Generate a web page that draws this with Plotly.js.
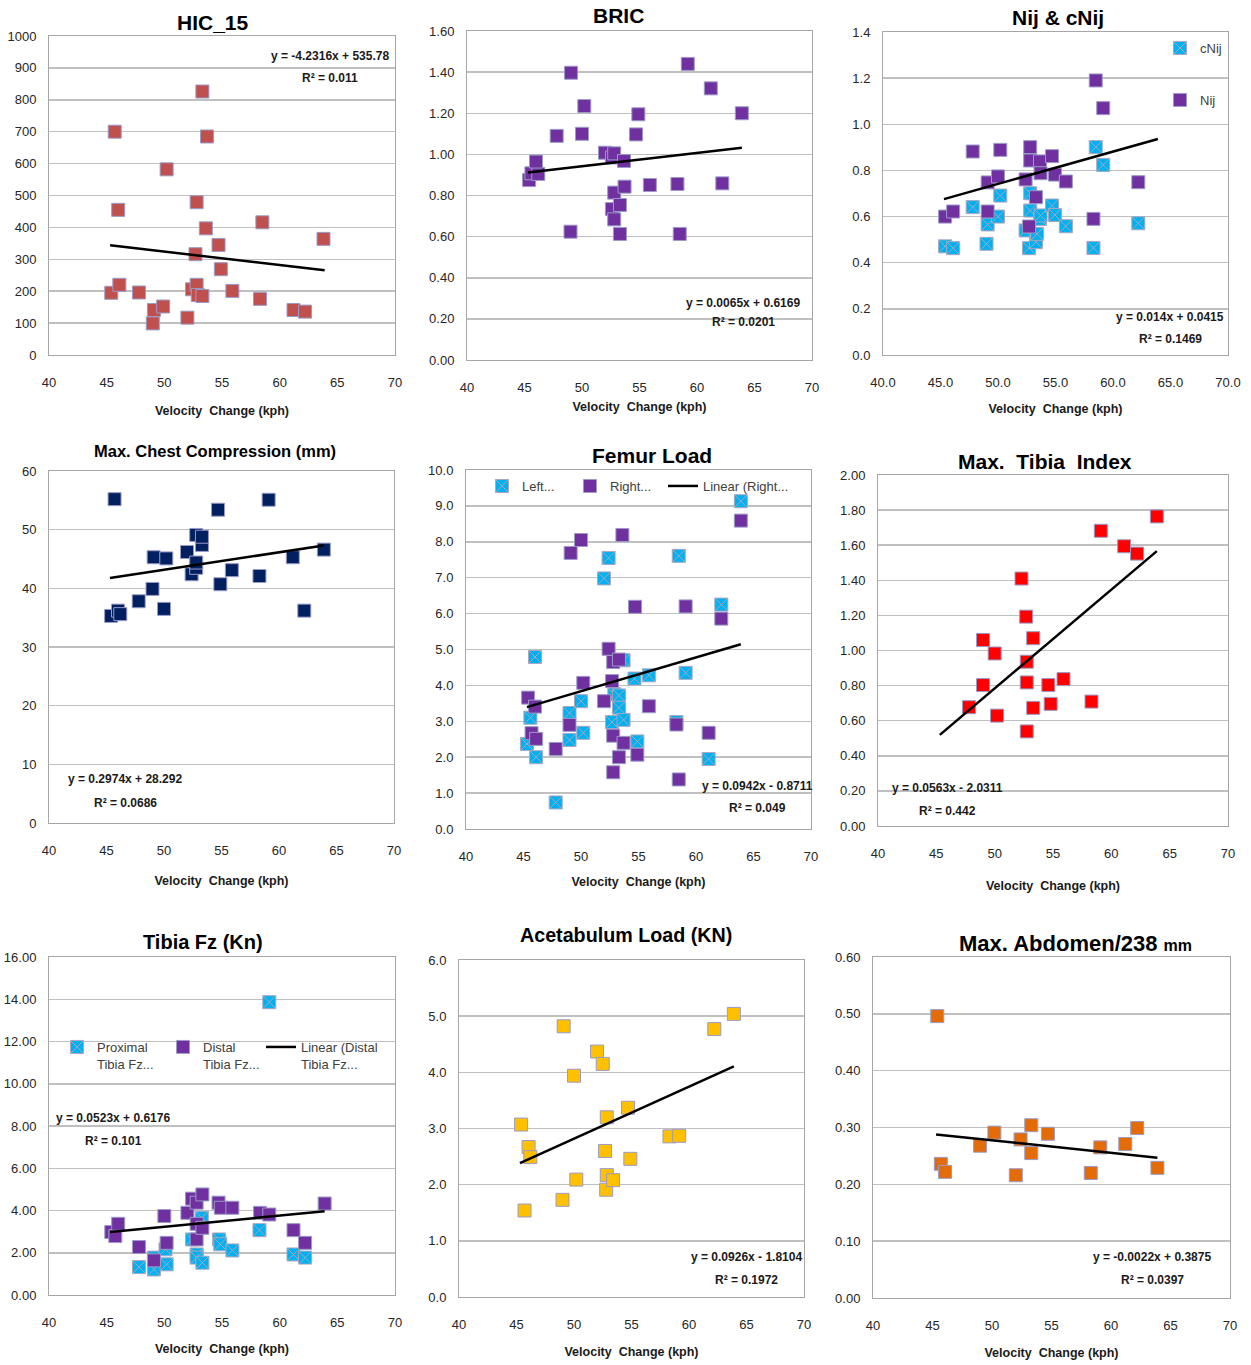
<!DOCTYPE html>
<html><head><meta charset="utf-8">
<script src="https://cdn.plot.ly/plotly-3.0.1.min.js"></script>
<style>html,body{margin:0;padding:0;background:#fff}#chart{width:1251px;height:1365px}</style>
</head><body><div id="chart"></div>
<script>
// ---------------- DATA ----------------
const hicX = [45.4, 45.7, 46.0, 46.1, 47.8, 49.1, 49.0, 49.9, 50.2, 52.0, 52.4, 52.8, 52.7, 52.8, 52.9, 53.3, 53.3, 53.6, 53.7, 54.7, 54.9, 55.9, 58.3, 58.5, 61.2, 62.2, 63.8];
const hicY = [195, 700, 455, 220, 196, 141, 99, 152, 582, 117, 206, 479, 316, 220, 188, 826, 185, 397, 685, 345, 269, 201, 176, 416, 141, 136, 364];

const bricX = [45.4, 45.6, 46.2, 46.0, 47.8, 49.05, 49.0, 50.0, 50.2, 52.0, 52.6, 52.8, 52.8, 52.6, 52.8, 53.3, 53.3, 53.65, 53.7, 54.7, 54.9, 55.9, 58.3, 58.5, 59.2, 61.2, 62.2, 63.9];
const bricY = [0.875, 0.908, 0.905, 0.965, 1.09, 1.397, 0.624, 1.10, 1.235, 1.008, 0.985, 1.005, 0.814, 0.734, 0.684, 0.754, 0.613, 0.968, 0.843, 1.097, 1.195, 0.851, 0.856, 0.613, 1.44, 1.321, 0.859, 1.20];

const cnijX = [45.4, 46.1, 47.8, 49.0, 49.1, 50.0, 50.2, 52.4, 52.8, 52.8, 52.7, 53.3, 53.4, 53.65, 53.7, 54.7, 54.95, 55.9, 58.3, 58.5, 59.15, 62.2];
const cnijY = [0.471, 0.463, 0.641, 0.482, 0.566, 0.600, 0.691, 0.540, 0.701, 0.626, 0.463, 0.489, 0.525, 0.590, 0.605, 0.648, 0.607, 0.558, 0.464, 0.901, 0.824, 0.571];
const nijX = [45.4, 46.1, 47.8, 49.1, 49.1, 50.0, 50.2, 52.4, 52.8, 52.8, 52.7, 53.3, 53.65, 53.7, 54.7, 54.95, 55.9, 58.3, 58.5, 59.15, 62.2];
const nijY = [0.600, 0.622, 0.882, 0.748, 0.622, 0.774, 0.889, 0.761, 0.901, 0.843, 0.557, 0.684, 0.839, 0.788, 0.862, 0.782, 0.752, 0.590, 1.190, 1.070, 0.749];

const chestX = [45.4, 45.7, 46.0, 46.2, 47.8, 49.0, 49.1, 50.0, 50.2, 52.0, 52.4, 52.8, 52.8, 52.8, 53.3, 53.3, 54.7, 54.9, 55.9, 58.3, 59.1, 61.2, 62.2, 63.9];
const chestY = [35.3, 55.2, 36.2, 35.6, 37.8, 39.9, 45.3, 36.5, 45.1, 46.2, 42.4, 49.1, 43.5, 44.4, 47.4, 48.8, 53.4, 40.7, 43.1, 42.1, 55.1, 45.3, 36.2, 46.6];

const femurLeftX = [45.3, 45.6, 46.0, 46.1, 47.8, 49.0, 49.0, 50.0, 50.2, 52.0, 52.4, 52.7, 52.9, 53.3, 53.3, 53.7, 53.7, 54.65, 54.9, 55.9, 58.5, 58.3, 59.1, 61.1, 62.2, 63.9];
const femurLeftY = [2.37, 3.10, 4.79, 2.00, 0.74, 3.23, 2.48, 3.56, 2.68, 6.98, 7.55, 2.98, 3.75, 3.72, 3.38, 4.70, 3.04, 4.19, 2.44, 4.28, 7.61, 2.98, 4.35, 1.95, 6.25, 9.13];
const femurRightX = [45.4, 45.7, 46.0, 46.1, 47.8, 49.0, 49.1, 50.0, 50.2, 52.0, 52.4, 52.7, 52.8, 52.8, 52.8, 53.3, 53.3, 53.6, 53.7, 54.7, 54.9, 55.9, 58.3, 58.5, 59.1, 61.1, 62.2, 63.9];
const femurRightY = [3.66, 2.67, 3.41, 2.51, 2.23, 2.90, 7.69, 8.05, 4.07, 3.56, 5.02, 4.12, 4.65, 2.60, 1.58, 4.72, 2.00, 8.19, 2.40, 6.19, 2.07, 3.42, 2.91, 1.38, 6.20, 2.68, 5.86, 8.59];

const tibiaIdxX = [47.8, 49.0, 49.0, 50.0, 50.2, 52.3, 52.7, 52.75, 52.75, 52.75, 53.3, 53.3, 54.6, 54.8, 55.9, 58.3, 59.1, 61.1, 62.2, 63.9];
const tibiaIdxY = [0.677, 0.803, 1.06, 0.983, 0.629, 1.41, 1.193, 0.936, 0.818, 0.539, 1.07, 0.673, 0.803, 0.696, 0.837, 0.709, 1.682, 1.594, 1.552, 1.764];

const tibiaProxX = [47.8, 49.1, 49.1, 50.1, 50.2, 52.4, 52.8, 52.8, 53.25, 53.3, 54.75, 54.85, 55.9, 58.25, 59.1, 61.2, 62.2];
const tibiaProxY = [1.32, 1.77, 1.21, 2.16, 1.45, 2.63, 1.92, 1.77, 3.66, 1.53, 2.63, 2.40, 2.11, 3.07, 13.86, 1.92, 1.77];
const tibiaDistX = [45.4, 45.75, 46.0, 47.8, 49.1, 50.0, 50.2, 52.0, 52.4, 52.8, 52.8, 52.8, 53.3, 53.3, 54.7, 54.9, 55.9, 58.3, 59.1, 61.2, 62.2, 63.9];
const tibiaDistY = [2.98, 2.79, 3.37, 2.27, 1.64, 3.74, 2.47, 3.89, 4.56, 4.37, 3.37, 2.63, 4.76, 3.18, 4.37, 4.13, 4.13, 3.89, 3.81, 3.07, 2.47, 4.33];

const acetX = [45.4, 45.7, 46.05, 46.2, 49.0, 49.1, 50.0, 50.2, 52.0, 52.5, 52.7, 52.85, 52.85, 52.8, 53.4, 54.7, 54.9, 58.3, 59.15, 62.2, 63.9];
const acetY = [3.07, 1.54, 2.67, 2.49, 1.73, 4.82, 3.94, 2.09, 4.37, 4.15, 2.60, 3.20, 2.17, 1.91, 2.08, 3.37, 2.46, 2.86, 2.87, 4.77, 5.04];

const abdX = [45.4, 45.7, 46.05, 49.0, 50.2, 52.0, 52.4, 53.3, 53.3, 54.7, 58.3, 59.1, 61.2, 62.2, 63.9];
const abdY = [0.496, 0.236, 0.222, 0.268, 0.291, 0.216, 0.279, 0.304, 0.255, 0.289, 0.220, 0.265, 0.271, 0.299, 0.229];

// Trend line equations as printed on each panel
const trendSlope = [-4.2316, 0.0065, 0.014, 0.2974, 0.0942, 0.0563, 0.0523, 0.0926, -0.0022];
const trendIntercept = [535.78, 0.6169, 0.0415, 28.292, -0.8711, -2.0311, 0.6176, -1.8104, 0.3875];
const trendR2 = [0.011, 0.0201, 0.1469, 0.0686, 0.049, 0.442, 0.101, 0.1972, 0.0397];

const panelTitles = ['HIC_15', 'BRIC', 'Nij & cNij', 'Max. Chest Compression (mm)', 'Femur Load',
  'Max.\u00a0 Tibia\u00a0 Index', 'Tibia Fz (Kn)', 'Acetabulum Load (KN)', "Max. Abdomen/238 <span style='font-size:16px'>mm</span>"];
const xTitle = 'Velocity\u00a0 Change (kph)';
const yMax = [1000, 1.6, 1.4, 60, 10, 2, 16, 6, 0.6];
const yStep = [100, 0.2, 0.2, 10, 1, 0.2, 2, 1, 0.1];
const yFmt = ['d', '.2f', '.1f', 'd', '.1f', '.2f', '.2f', '.1f', '.2f'];
const xFmt = ['d', 'd', '.1f', 'd', 'd', 'd', 'd', 'd', 'd'];

// ---------------- STYLE / LAYOUT ----------------
const W = 1251, H = 1365;
const FONT = '"Liberation Sans", Arial, sans-serif';
// plot-area boxes in px: [left, right, top, bottom]
const boxes = [
  [49, 395, 36, 355], [467, 812, 31, 360], [883, 1228, 32, 355],
  [49, 394, 471, 823], [466, 811, 470, 829], [878, 1228, 475, 826],
  [49, 395, 957, 1295], [459, 804, 960, 1297], [873, 1230, 957, 1298]
];
const titlePos = [[213, 22, 21], [618, 16, 21], [1058, 18, 21], [215, 451, 16.5], [652, 456, 21],
  [1045, 461, 21], [203, 942, 20], [626, 935, 19.7], [1075, 943, 22]];
const eqPos = [[330, 56, 78], [743, 303, 322], [1170, 317, 339], [125, 779, 803], [757, 786, 808],
  [948, 788, 811], [113, 1118, 1141], [746, 1257, 1280], [1152, 1257, 1280]];
const xTitleStandoff = [17, 8, 15, 19, 14, 21, 15, 16, 16];

const BORDER = '#9b9bc8';
const sq = (c) => ({symbol: 'square', size: 13, color: c, line: {color: BORDER, width: 1}});
const sqx = (c) => ({symbol: 'square-x', size: 13, color: c, line: {color: '#a8a8c0', width: 1}});

// legend boxes: [left px, top px] (one entry each)
const legendPos = {
  legend: [1160, 33], legend2: [1160, 85],
  legend3: [482, 471], legend4: [570, 471], legend5: [663, 471],
  legend6: [57, 1032], legend7: [163, 1032], legend8: [261, 1032]
};

const series = [
  [{x: hicX, y: hicY, name: 'HIC_15', marker: sq('#C0504D')}],
  [{x: bricX, y: bricY, name: 'BRIC', marker: sq('#7030A0')}],
  [{x: cnijX, y: cnijY, name: 'cNij', marker: sqx('#00B0F0'), legend: 'legend'},
   {x: nijX, y: nijY, name: 'Nij', marker: sq('#7030A0'), legend: 'legend2'}],
  [{x: chestX, y: chestY, name: 'Chest', marker: sq('#002060')}],
  [{x: femurLeftX, y: femurLeftY, name: 'Left...', marker: sqx('#00B0F0'), legend: 'legend3'},
   {x: femurRightX, y: femurRightY, name: 'Right...', marker: sq('#7030A0'), legend: 'legend4'}],
  [{x: tibiaIdxX, y: tibiaIdxY, name: 'Tibia Index', marker: sq('#FF0000')}],
  [{x: tibiaProxX, y: tibiaProxY, name: 'Proximal<br>Tibia Fz...', marker: sqx('#00B0F0'), legend: 'legend6'},
   {x: tibiaDistX, y: tibiaDistY, name: 'Distal<br>Tibia Fz...', marker: sq('#7030A0'), legend: 'legend7'}],
  [{x: acetX, y: acetY, name: 'Acetabulum', marker: sq('#FFC000')}],
  [{x: abdX, y: abdY, name: 'Abdomen', marker: sq('#E36C09')}]
];
const trendLegend = [null, null, null, null, ['legend5', 'Linear (Right...'], null, ['legend8', 'Linear (Distal<br>Tibia Fz...'], null, null];

const allX = [].concat(hicX, bricX, cnijX, nijX, chestX, femurLeftX, femurRightX, tibiaIdxX, tibiaProxX, tibiaDistX, acetX, abdX);
const vMin = Math.min(...allX), vMax = Math.max(...allX);

const legendFont = {family: FONT, size: 13, color: '#404040'};
const traces = [];
const layout = {
  width: W, height: H, margin: {l: 0, r: 0, t: 0, b: 0},
  paper_bgcolor: '#ffffff', plot_bgcolor: '#ffffff',
  font: {family: FONT, color: '#262626', size: 13},
  annotations: []
};
Object.keys(legendPos).forEach(k => {
  layout[k] = {x: legendPos[k][0] / W, y: 1 - legendPos[k][1] / H, xanchor: 'left', yanchor: 'top',
    orientation: 'v', valign: 'top', bgcolor: 'rgba(0,0,0,0)', font: legendFont};
});

boxes.forEach((b, i) => {
  const n = i === 0 ? '' : String(i + 1);
  layout['xaxis' + n] = {
    domain: [b[0] / W, b[1] / W], anchor: 'y' + n, range: [40, 70], tick0: 40, dtick: 5, tickformat: xFmt[i],
    showgrid: false, zeroline: false, showline: true, mirror: true, linecolor: '#a6a6a6', linewidth: 1,
    ticks: '', ticklabelstandoff: 15, tickfont: {size: 13, color: '#262626'},
    title: {text: xTitle, standoff: xTitleStandoff[i], font: {size: 12.5, color: '#1a1a1a', weight: 'bold'}}
  };
  layout['yaxis' + n] = {
    domain: [1 - b[3] / H, 1 - b[2] / H], anchor: 'x' + n, range: [0, yMax[i]], tick0: 0, dtick: yStep[i], tickformat: yFmt[i],
    showgrid: true, gridcolor: '#c0c0c0', gridwidth: 1.5, zeroline: false, showline: true, mirror: true,
    linecolor: '#a6a6a6', linewidth: 1, ticks: '', ticklabelstandoff: 9, tickfont: {size: 13, color: '#262626'}
  };
  series[i].forEach(s => {
    traces.push(Object.assign({type: 'scatter', mode: 'markers', xaxis: 'x' + n, yaxis: 'y' + n,
      showlegend: !!s.legend, hoverinfo: 'x+y'}, s));
  });
  const tx = [vMin, vMax];
  const tr = {type: 'scatter', mode: 'lines', x: tx, y: tx.map(v => trendSlope[i] * v + trendIntercept[i]),
    xaxis: 'x' + n, yaxis: 'y' + n, line: {color: '#000000', width: 2.5}, showlegend: false, name: 'Linear'};
  if (trendLegend[i]) { tr.showlegend = true; tr.legend = trendLegend[i][0]; tr.name = trendLegend[i][1]; }
  traces.push(tr);

  const tp = titlePos[i];
  layout.annotations.push({xref: 'paper', yref: 'paper', x: tp[0] / W, y: 1 - tp[1] / H, xanchor: 'center', yanchor: 'middle',
    text: '<b>' + panelTitles[i] + '</b>', showarrow: false, font: {family: FONT, size: tp[2], color: '#000000'}});
  const m = trendSlope[i], c = trendIntercept[i];
  const eq = 'y = ' + m + 'x ' + (c < 0 ? '- ' : '+ ') + Math.abs(c);
  const ep = eqPos[i];
  layout.annotations.push({xref: 'paper', yref: 'paper', x: ep[0] / W, y: 1 - ep[1] / H, xanchor: 'center', yanchor: 'middle',
    text: '<b>' + eq + '</b>', showarrow: false, font: {family: FONT, size: 12, color: '#1a1a1a'}});
  layout.annotations.push({xref: 'paper', yref: 'paper', x: ep[0] / W, y: 1 - ep[2] / H, xanchor: 'center', yanchor: 'middle',
    text: '<b>R² = ' + trendR2[i] + '</b>', showarrow: false, font: {family: FONT, size: 12, color: '#1a1a1a'}});
});

Plotly.newPlot('chart', traces, layout, {displayModeBar: false, staticPlot: true});
</script>
</body></html>
